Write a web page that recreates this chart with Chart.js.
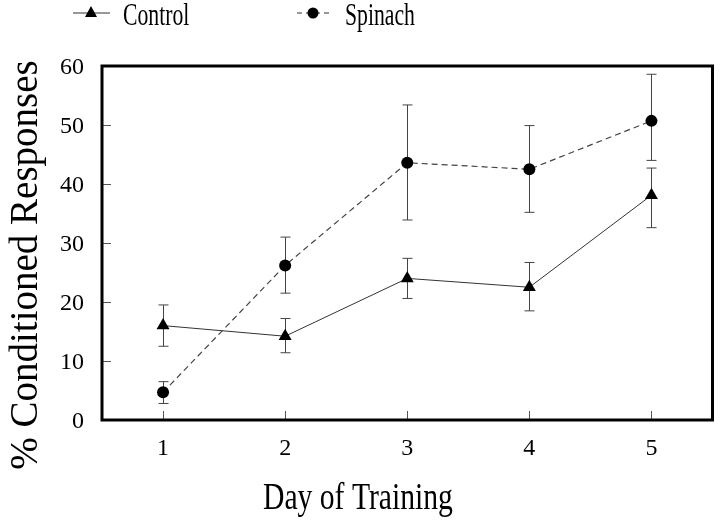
<!DOCTYPE html>
<html>
<head>
<meta charset="utf-8">
<script src="https://cdn.jsdelivr.net/npm/chart.js@4.4.0/dist/chart.umd.min.js"></script>
<style>
    html, body { margin: 0; padding: 0; background: #fff; }
</style>
</head>
<body>
<canvas id="chart" width="720" height="520"></canvas>
<script>
(() => {
    "use strict";
    const days = [ 1, 2, 3, 4, 5 ];
    const controlMean = [ 16.0, 14.2, 24.0, 22.5, 38.1 ];
    const controlHigh = [ 19.5, 17.2, 27.4, 26.7, 42.7 ];
    const controlLow = [ 12.5, 11.4, 20.6, 18.5, 32.6 ];
    const spinachMean = [ 4.7, 26.2, 43.6, 42.5, 50.7 ];
    const spinachHigh = [ 6.5, 31.0, 53.4, 49.9, 58.6 ];
    const spinachLow = [ 2.8, 21.5, 33.9, 35.2, 44.0 ];
    const yTicks = [ 0, 10, 20, 30, 40, 50, 60 ];
    const seriesNames = [ "Control", "Spinach" ];
    const xTitle = "Day of Training";
    const yTitle = "% Conditioned Responses";

    const serif = "'Liberation Serif', 'Times New Roman', serif";
    const errorBars = [ [ controlHigh, controlLow ], [ spinachHigh, spinachLow ] ];

    // text squeezed sideways like the scanned figure
    function squeezed(ctx, text, x, y, size, sx) {
        ctx.save();
        ctx.translate(x, y);
        ctx.scale(sx, 1);
        ctx.font = size + "px " + serif;
        ctx.fillText(text, 0, 0);
        ctx.restore();
    }

    const decorations = {
        id: "decorations",
        beforeDatasetsDraw(chart) {
            const ctx = chart.ctx;
            const xs = chart.scales.x, ys = chart.scales.y;
            ctx.save();
            ctx.strokeStyle = "#444";
            ctx.lineWidth = 1;
            errorBars.forEach(([hi, lo]) => {
                days.forEach((d, i) => {
                    const x = Math.round(xs.getPixelForValue(d)) + 0.5;
                    const yh = ys.getPixelForValue(hi[i]);
                    const yl = ys.getPixelForValue(lo[i]);
                    ctx.beginPath();
                    ctx.moveTo(x, yh); ctx.lineTo(x, yl);
                    ctx.moveTo(x - 5, yh); ctx.lineTo(x + 5, yh);
                    ctx.moveTo(x - 5, yl); ctx.lineTo(x + 5, yl);
                    ctx.stroke();
                });
            });
            ctx.restore();
        },
        afterDraw(chart) {
            const ctx = chart.ctx;
            const a = chart.chartArea;
            const xs = chart.scales.x, ys = chart.scales.y;
            ctx.save();
            // inner ticks
            ctx.strokeStyle = "#555";
            ctx.lineWidth = 1;
            ctx.beginPath();
            yTicks.forEach(v => {
                const y = Math.round(ys.getPixelForValue(v)) + 0.5;
                ctx.moveTo(a.left, y); ctx.lineTo(a.left + 9, y);
            });
            days.forEach(d => {
                const x = Math.round(xs.getPixelForValue(d)) + 0.5;
                ctx.moveTo(x, a.bottom); ctx.lineTo(x, a.bottom - 9);
            });
            ctx.stroke();
            // frame
            ctx.strokeStyle = "#000";
            ctx.lineWidth = 3;
            ctx.strokeRect(a.left, a.top, a.right - a.left, a.bottom - a.top);

            // axis titles
            ctx.fillStyle = "#000";
            ctx.textAlign = "left";
            ctx.textBaseline = "alphabetic";
            squeezed(ctx, xTitle, 263, 509, 38, 0.78);
            ctx.save();
            ctx.translate(37, 265);
            ctx.rotate(-Math.PI / 2);
            ctx.font = "39px " + serif;
            ctx.textAlign = "center";
            ctx.fillText(yTitle, 0, 0);
            ctx.restore();

            // legend
            const ly = 13;
            ctx.strokeStyle = "#333";
            ctx.lineWidth = 1;
            ctx.beginPath();
            ctx.moveTo(73, ly); ctx.lineTo(110, ly);
            ctx.stroke();
            ctx.beginPath();
            ctx.moveTo(91, ly - 7); ctx.lineTo(97, ly + 4); ctx.lineTo(85, ly + 4);
            ctx.closePath();
            ctx.fill();
            squeezed(ctx, seriesNames[0], 123, 25, 31, 0.7);

            ctx.setLineDash([ 5, 4 ]);
            ctx.beginPath();
            ctx.moveTo(297, ly); ctx.lineTo(332, ly);
            ctx.stroke();
            ctx.setLineDash([]);
            ctx.beginPath();
            ctx.arc(313, ly, 5.5, 0, Math.PI * 2);
            ctx.fill();
            squeezed(ctx, seriesNames[1], 345, 25, 31, 0.7);
            ctx.restore();
        }
    };

    const data = {
        datasets: [ {
            label: seriesNames[0],
            data: days.map((d, i) => ({ x: d, y: controlMean[i] })),
            borderColor: "#333",
            borderWidth: 1,
            pointStyle: "triangle",
            pointRadius: 7.5,
            pointBackgroundColor: "#000",
            pointBorderColor: "#000",
            pointBorderWidth: 0
        }, {
            label: seriesNames[1],
            data: days.map((d, i) => ({ x: d, y: spinachMean[i] })),
            borderColor: "#444",
            borderWidth: 1.2,
            borderDash: [ 6, 4 ],
            pointStyle: "circle",
            pointRadius: 6,
            pointBackgroundColor: "#000",
            pointBorderColor: "#000",
            pointBorderWidth: 0
        } ]
    };

    const config = {
        type: "line",
        data,
        plugins: [ decorations ],
        options: {
            responsive: false,
            animation: false,
            layout: {
                padding: { top: 66, right: 4, left: 0, bottom: 0 }
            },
            plugins: {
                legend: { display: false },
                tooltip: { enabled: false }
            },
            scales: {
                x: {
                    type: "linear",
                    min: 0.5,
                    max: 5.5,
                    afterFit: s => { s.height = 100; },
                    afterBuildTicks: s => { s.ticks = days.map(v => ({ value: v })); },
                    grid: { display: false, drawTicks: false },
                    border: { display: false },
                    ticks: {
                        padding: 14,
                        color: "#000",
                        font: { family: serif, size: 24 }
                    }
                },
                y: {
                    min: 0,
                    max: 60,
                    afterFit: s => { s.width = 102; },
                    afterBuildTicks: s => { s.ticks = yTicks.map(v => ({ value: v })); },
                    grid: { display: false, drawTicks: false },
                    border: { display: false },
                    ticks: {
                        padding: 18,
                        labelOffset: 2,
                        color: "#000",
                        font: { family: serif, size: 24 }
                    }
                }
            }
        }
    };

    new Chart(document.getElementById("chart"), config);
})();
</script>
</body>
</html>
